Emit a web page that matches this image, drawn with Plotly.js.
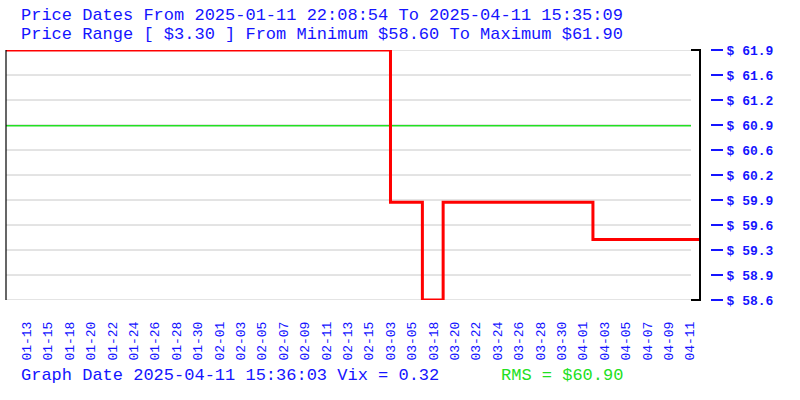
<!DOCTYPE html>
<html>
<head>
<meta charset="utf-8">
<script src="https://cdn.plot.ly/plotly-3.0.1.min.js"></script>
<style>html,body{margin:0;padding:0;background:#fff;}#chart{width:800px;height:400px;}</style>
</head>
<body>
<div id="chart"></div>
<script>
// ---- data ----
const dateLabels = ['01-13','01-15','01-18','01-20','01-22','01-24','01-26','01-28','01-30',
  '02-01','02-03','02-05','02-07','02-09','02-11','02-13','02-15','03-03','03-05','03-18',
  '03-20','03-22','03-24','03-26','03-28','03-30','04-01','04-03','04-05','04-07','04-09','04-11'];
const dateIndex = dateLabels.map((d, i) => i);
// step line: position along the date index, and price held from there on
const stepIndex = [-0.97, 17.0, 18.49, 19.46, 26.46, 31.5];
const stepPrice = [61.90, 59.89, 58.60, 59.89, 59.40, 59.40];
const priceTickVals = [58.6, 58.93, 59.26, 59.59, 59.92, 60.25, 60.58, 60.91, 61.24, 61.57, 61.9];
const priceTickText = ['$ 58.6','$ 58.9','$ 59.3','$ 59.6','$ 59.9','$ 60.2','$ 60.6','$ 60.9','$ 61.2','$ 61.6','$ 61.9'];
const rmsPrice = 60.90;
const priceMin = 58.60, priceMax = 61.90;
const titleLine1 = 'Price Dates From 2025-01-11 22:08:54 To 2025-04-11 15:35:09';
const titleLine2 = 'Price Range [ $3.30 ] From Minimum $58.60 To Maximum $61.90';
const footLeft = 'Graph Date 2025-04-11 15:36:03 Vix = 0.32';
const footRight = 'RMS = $60.90';

// ---- layout helpers ----
const W = 800, H = 400, ML = 6, MR = 50, MT = 50, MB = 100;
const PW = W - ML - MR, PH = H - MT - MB;
const px2x = p => (p - ML) / PW;
const px2y = p => (H - MB - p) / PH;
const BLUE = '#1414ff', GREEN = '#22e022', FONT = 'Liberation Mono, Cousine, monospace';
const plotRight = 700, gridRight = 691;

const shapes = [];
priceTickVals.forEach(v => shapes.push({type:'line', xref:'paper', yref:'y', x0:0, x1:px2x(gridRight), y0:v, y1:v,
  line:{color:'#c8c8c8', width:1}, layer:'below'}));
shapes.push({type:'line', xref:'paper', yref:'y', x0:0, x1:px2x(gridRight), y0:rmsPrice, y1:rmsPrice,
  line:{color:GREEN, width:1.3}, layer:'below'});
// frame: left line and right bracket
shapes.push({type:'line', xref:'paper', yref:'paper', x0:0, x1:0, y0:0, y1:1, line:{color:'#000', width:1.2}});
shapes.push({type:'path', xref:'paper', yref:'paper',
  path:`M ${px2x(gridRight)} 1 L ${px2x(plotRight)} 1 L ${px2x(plotRight)} 0 L ${px2x(gridRight)} 0`,
  line:{color:'#000', width:2}});

const trace = {
  x: stepIndex, y: stepPrice, type:'scatter', mode:'lines',
  line:{shape:'hv', color:'#ff0000', width:3}, hoverinfo:'skip'
};

const layout = {
  width: W, height: H,
  margin:{l:ML, r:MR, t:MT, b:MB, pad:0},
  paper_bgcolor:'#fff', plot_bgcolor:'rgba(0,0,0,0)',
  showlegend:false,
  xaxis:{
    domain:[0, px2x(plotRight)],
    range:[-0.967, -0.967 + (plotRight - ML) / 21.4],
    tickmode:'array', tickvals:dateIndex, ticktext:dateLabels,
    tickangle:-90, ticks:'', showgrid:false, zeroline:false, showline:false,
    tickfont:{family:FONT, size:13, color:BLUE},
    ticklabelstandoff:18
  },
  yaxis:{
    range:[priceMin, priceMax],
    anchor:'free', position:px2x(710), side:'right',
    tickmode:'array', tickvals:priceTickVals, ticktext:priceTickText,
    ticks:'outside', ticklen:12, tickwidth:1.5, tickcolor:BLUE,
    showgrid:false, zeroline:false, showline:false,
    tickfont:{family:FONT, size:13, color:BLUE, weight:'bold'},
    ticklabelstandoff:1
  },
  shapes: shapes,
  annotations:[
    {text:titleLine1, xref:'paper', yref:'paper', x:px2x(19), y:px2y(15), xanchor:'left', yanchor:'middle', showarrow:false,
      font:{family:FONT, size:17, color:BLUE}},
    {text:titleLine2, xref:'paper', yref:'paper', x:px2x(19), y:px2y(35), xanchor:'left', yanchor:'middle', showarrow:false,
      font:{family:FONT, size:17, color:BLUE}},
    {text:footLeft, xref:'paper', yref:'paper', x:px2x(19), y:px2y(375), xanchor:'left', yanchor:'middle', showarrow:false,
      font:{family:FONT, size:17, color:BLUE}},
    {text:footRight, xref:'paper', yref:'paper', x:px2x(499), y:px2y(375), xanchor:'left', yanchor:'middle', showarrow:false,
      font:{family:FONT, size:17, color:GREEN}}
  ]
};

Plotly.newPlot('chart', [trace], layout, {staticPlot:true, displayModeBar:false});
</script>
</body>
</html>
